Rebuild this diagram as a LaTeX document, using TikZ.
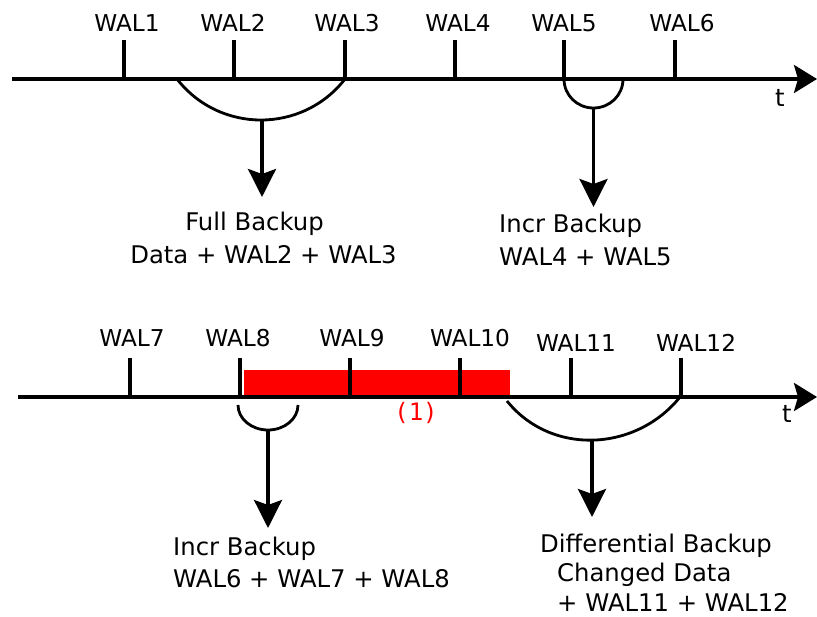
\documentclass[tikz,border=0pt]{standalone}
\usepackage{fontspec}
\setmainfont{DejaVu Sans}
\setmonofont{DejaVu Sans Mono}
\usetikzlibrary{arrows.meta}
\begin{document}
\begin{tikzpicture}[x=1pt,y=-1pt,
  axis/.style={line width=3.3pt, -{Stealth[length=23pt,width=28pt,inset=4pt]}},
  tickline/.style={line width=3.3pt},
  span/.style={line width=2.8pt},
  down/.style={line width=3.3pt, -{Stealth[length=28pt,width=28pt,inset=5pt]}},
  wal/.style={font=\fontsize{23.2}{27}\selectfont, anchor=base, inner sep=0pt},
  body/.style={font=\fontsize{24.3}{33}\selectfont, inner sep=0pt},
  tlabel/.style={font=\fontsize{24.3}{27}\selectfont, anchor=base, inner sep=0pt},
]
\useasboundingbox (0,0) rectangle (817,617);

% ---------- top time line ----------
\coordinate (a1s) at (12,79);
\coordinate (a1e) at (817,79);
\foreach \n/\x in {1/124,2/234,3/345,4/455,5/564,6/675}{
  \coordinate (tb\n) at (\x,79);
  \coordinate (tt\n) at (\x,40);
}
\draw[tickline] (tb1) -- (tt1);
\draw[tickline] (tb2) -- (tt2);
\draw[tickline] (tb3) -- (tt3);
\draw[tickline] (tb4) -- (tt4);
\draw[tickline] (tb5) -- (tt5);
\draw[tickline] (tb6) -- (tt6);
\draw[axis] (a1s) -- (a1e);

\node[wal] (w1) at (127,31.5) {WAL1};
\node[wal] (w2) at (233,31.5) {WAL2};
\node[wal] (w3) at (347,31.5) {WAL3};
\node[wal] (w4) at (458,31.5) {WAL4};
\node[wal] (w5) at (564,31.5) {WAL5};
\node[wal] (w6) at (682,31.5) {WAL6};
\node[tlabel] (t1) at (780,107) {t};

% full backup arc
\coordinate (fa) at (177,79);
\coordinate (fb) at (345,79);
\coordinate (fm) at (262,120);
\draw[span] (fa) .. controls (219.6,133.7) and (302.4,133.7) .. (fb);
\coordinate (fend) at (262,197);
\draw[down] (fm) -- (fend);

% incr arc top
\coordinate (ia) at (564,79);
\coordinate (ib) at (623,79);
\coordinate (im) at (593.5,108);
\draw[span] (ia) .. controls (564,95.3) and (577.2,108) .. (im)
                 .. controls (609.8,108) and (623,95.3) .. (ib);
\coordinate (iend) at (593.5,207);
\draw[down] (im) -- (iend);

\node[body, align=center, anchor=north] (full) at (263.5,211.5)
  {Full Backup\hspace*{18pt}\\Data + WAL2 + WAL3};
\node[body, align=left, anchor=north west] (incr1) at (499,213.5)
  {Incr Backup\\WAL4 + WAL5};

% ---------- bottom time line ----------
\fill[red] (244,370) rectangle (510,396);
\coordinate (a2s) at (18,397);
\coordinate (a2e) at (817,397);
\foreach \n/\x in {7/130,8/240,9/350,10/460,11/571,12/681}{
  \coordinate (tb\n) at (\x,397);
  \coordinate (tt\n) at (\x,358);
}
\draw[tickline] (tb7) -- (tt7);
\draw[tickline] (tb8) -- (tt8);
\draw[tickline] (tb9) -- (tt9);
\draw[tickline] (tb10) -- (tt10);
\draw[tickline] (tb11) -- (tt11);
\draw[tickline] (tb12) -- (tt12);
\draw[axis] (a2s) -- (a2e);

\node[wal] (w7) at (132,347) {WAL7};
\node[wal] (w8) at (238,347) {WAL8};
\node[wal] (w9) at (352,347) {WAL9};
\node[wal] (w10) at (470,347) {WAL10};
\node[wal] (w11) at (576,352) {WAL11};
\node[wal] (w12) at (696,352) {WAL12};
\node[tlabel] (t2) at (787,423) {t};
\node[anchor=base, inner sep=0pt, text=red,
      font=\ttfamily\fontsize{24}{28}\selectfont] (one) at (416,421) {(1)};

% incr arc bottom
\coordinate (ja) at (238,405);
\coordinate (jb) at (298,405);
\coordinate (jm) at (268,430);
\draw[span] (ja) .. controls (238,418.8) and (251.4,430) .. (jm)
                 .. controls (284.6,430) and (298,418.8) .. (jb);
\coordinate (jend) at (268,528);
\draw[down] (jm) -- (jend);

% differential arc
\coordinate (da) at (507,401);
\coordinate (db) at (680,397);
\coordinate (dm) at (592,440);
\draw[span] (da) .. controls (551.1,455.8) and (635.9,451.8) .. (db);
\coordinate (dend) at (592,517);
\draw[down] (dm) -- (dend);

\node[body, align=left, anchor=north west, font=\fontsize{24.3}{32}\selectfont]
  (incr2) at (173,536.5) {Incr Backup\\WAL6 + WAL7 + WAL8};
\node[body, align=left, anchor=north west, font=\fontsize{24.3}{29.5}\selectfont]
  (diff) at (540,533.5)
  {Differential Backup\\\hspace*{17pt}Changed Data\\\hspace*{17pt}+ WAL11 + WAL12};
\end{tikzpicture}
\end{document}
